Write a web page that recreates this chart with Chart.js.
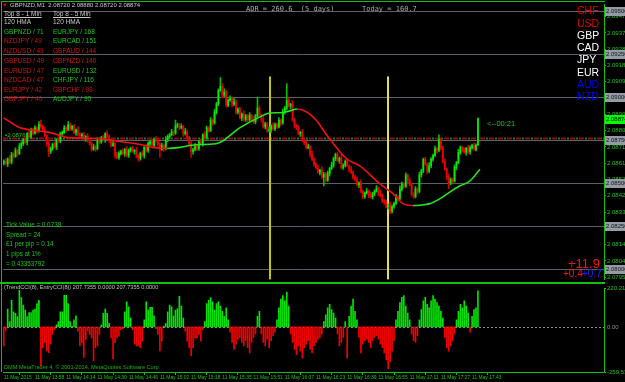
<!DOCTYPE html>
<html>
<head>
<meta charset="utf-8">
<script src="https://cdn.jsdelivr.net/npm/chart.js@4.4.1/dist/chart.umd.min.js"></script>
<style>
  html, body { margin: 0; padding: 0; background: #000; }
  #wrap { position: relative; width: 625px; height: 382px; overflow: hidden; background: #000; }
  canvas { position: absolute; left: 0; }
  #main { top: 0; }
  #ind { top: 284px; }
  .t { position: absolute; white-space: pre; line-height: 1; font-family: "Liberation Sans", Arial, sans-serif; }
</style>
</head>
<body>
<div id="wrap">
  <canvas id="main" width="625" height="284"></canvas>
  <canvas id="ind" width="625" height="98"></canvas>
</div>
<script>
// GBPNZD M1, 11 May 2015 13:42 .. 17:47
const tickLabels = ["11 May 2015", "11 May 13:58", "11 May 14:14", "11 May 14:30", "11 May 14:46", "11 May 15:02",
  "11 May 15:18", "11 May 15:35", "11 May 15:51", "11 May 16:07", "11 May 16:23", "11 May 16:39",
  "11 May 16:55", "11 May 17:11", "11 May 17:27", "11 May 17:43"]

const opens = [2.08615,2.08626,2.08610,2.08640,2.08622,2.08668,2.08655,2.08690,2.08672,2.08712,
 2.08729,2.08752,2.08738,2.08787,2.08770,2.08810,2.08790,2.08821,2.08804,2.08840,
 2.08830,2.08810,2.08775,2.08730,2.08683,2.08700,2.08724,2.08710,2.08752,2.08745,
 2.08787,2.08795,2.08821,2.08812,2.08839,2.08816,2.08828,2.08793,2.08810,2.08780,
 2.08775,2.08782,2.08758,2.08770,2.08747,2.08730,2.08695,2.08712,2.08700,2.08747,
 2.08740,2.08764,2.08752,2.08787,2.08770,2.08747,2.08718,2.08730,2.08660,2.08649,
 2.08672,2.08683,2.08670,2.08695,2.08660,2.08689,2.08701,2.08683,2.08690,2.08655,
 2.08643,2.08672,2.08660,2.08706,2.08690,2.08729,2.08741,2.08720,2.08752,2.08747,
 2.08724,2.08695,2.08718,2.08700,2.08752,2.08770,2.08781,2.08798,2.08790,2.08833,
 2.08839,2.08821,2.08830,2.08787,2.08800,2.08764,2.08729,2.08683,2.08695,2.08712,
 2.08700,2.08741,2.08730,2.08781,2.08765,2.08821,2.08805,2.08867,2.08850,2.08913,
 2.08960,2.09040,2.09063,2.09011,2.09030,2.08954,2.08982,2.08994,2.08959,2.08975,
 2.08913,2.08930,2.08879,2.08902,2.08870,2.08890,2.08867,2.08896,2.08873,2.08856,
 2.08890,2.08936,2.08896,2.08870,2.08827,2.08845,2.08804,2.08810,2.08833,2.08816,
 2.08840,2.08827,2.08867,2.08850,2.08913,2.08936,2.08982,2.08948,2.08960,2.08867,
 2.08833,2.08820,2.08787,2.08795,2.08747,2.08735,2.08706,2.08712,2.08666,2.08637,
 2.08609,2.08590,2.08562,2.08575,2.08534,2.08552,2.08515,2.08557,2.08585,2.08603,
 2.08640,2.08666,2.08630,2.08645,2.08590,2.08603,2.08626,2.08600,2.08580,2.08562,
 2.08534,2.08520,2.08488,2.08500,2.08450,2.08419,2.08440,2.08454,2.08430,2.08419,
 2.08435,2.08452,2.08470,2.08440,2.08425,2.08396,2.08385,2.08362,2.08370,2.08335,
 2.08362,2.08380,2.08419,2.08410,2.08465,2.08494,2.08480,2.08545,2.08511,2.08490,
 2.08436,2.08419,2.08465,2.08450,2.08545,2.08570,2.08637,2.08609,2.08568,2.08600,
 2.08637,2.08660,2.08700,2.08690,2.08752,2.08705,2.08626,2.08580,2.08534,2.08500,
 2.08520,2.08510,2.08591,2.08620,2.08678,2.08706,2.08690,2.08678,2.08701,2.08680,
 2.08706,2.08718,2.08695,2.08720]

const highs = [2.08634,2.08640,2.08646,2.08658,2.08678,2.08676,2.08704,2.08696,2.08730,2.08739,
 2.08760,2.08766,2.08793,2.08805,2.08820,2.08818,2.08835,2.08827,2.08858,2.08867,
 2.08838,2.08824,2.08781,2.08748,2.08710,2.08732,2.08738,2.08758,2.08770,2.08797,
 2.08803,2.08835,2.08827,2.08857,2.08849,2.08836,2.08842,2.08816,2.08828,2.08790,
 2.08790,2.08796,2.08776,2.08788,2.08757,2.08738,2.08726,2.08718,2.08765,2.08757,
 2.08772,2.08778,2.08793,2.08805,2.08780,2.08755,2.08744,2.08736,2.08678,2.08682,
 2.08691,2.08697,2.08701,2.08713,2.08699,2.08709,2.08715,2.08696,2.08708,2.08665,
 2.08680,2.08686,2.08712,2.08724,2.08739,2.08749,2.08755,2.08758,2.08770,2.08757,
 2.08732,2.08732,2.08724,2.08770,2.08780,2.08789,2.08812,2.08804,2.08867,2.08849,
 2.08847,2.08844,2.08836,2.08818,2.08810,2.08772,2.08743,2.08701,2.08730,2.08722,
 2.08749,2.08755,2.08787,2.08799,2.08831,2.08829,2.08881,2.08873,2.08931,2.08970,
 2.09048,2.09114,2.09080,2.09048,2.09040,2.08990,2.09008,2.09000,2.08993,2.08985,
 2.08938,2.08944,2.08908,2.08920,2.08900,2.08898,2.08910,2.08902,2.08891,2.08900,
 2.09000,2.08950,2.08902,2.08888,2.08855,2.08853,2.08824,2.08839,2.08851,2.08850,
 2.08848,2.08881,2.08873,2.08931,2.08946,2.09080,2.08996,2.08966,2.08978,2.08877,
 2.08841,2.08834,2.08801,2.08813,2.08757,2.08743,2.08726,2.08718,2.08684,2.08647,
 2.08617,2.08604,2.08581,2.08593,2.08562,2.08560,2.08571,2.08591,2.08621,2.08650,
 2.08674,2.08680,2.08651,2.08663,2.08613,2.08634,2.08640,2.08606,2.08598,2.08572,
 2.08542,2.08534,2.08506,2.08518,2.08460,2.08448,2.08468,2.08460,2.08448,2.08445,
 2.08460,2.08484,2.08476,2.08458,2.08435,2.08404,2.08399,2.08376,2.08388,2.08372,
 2.08388,2.08433,2.08425,2.08483,2.08504,2.08502,2.08559,2.08551,2.08529,2.08500,
 2.08444,2.08479,2.08471,2.08563,2.08580,2.08645,2.08651,2.08615,2.08618,2.08647,
 2.08668,2.08714,2.08706,2.08781,2.08762,2.08713,2.08640,2.08586,2.08552,2.08530,
 2.08528,2.08605,2.08626,2.08696,2.08716,2.08714,2.08704,2.08707,2.08719,2.08716,
 2.08726,2.08732,2.08728,2.08880]

const lows = [2.08605,2.08604,2.08594,2.08614,2.08610,2.08645,2.08649,2.08656,2.08664,2.08700,
 2.08719,2.08732,2.08722,2.08762,2.08758,2.08780,2.08784,2.08788,2.08796,2.08818,
 2.08800,2.08769,2.08714,2.08655,2.08671,2.08690,2.08704,2.08694,2.08737,2.08733,
 2.08777,2.08789,2.08796,2.08804,2.08804,2.08806,2.08787,2.08777,2.08772,2.08763,
 2.08765,2.08752,2.08742,2.08739,2.08718,2.08685,2.08689,2.08684,2.08692,2.08728,
 2.08730,2.08746,2.08736,2.08762,2.08735,2.08708,2.08712,2.08644,2.08641,2.08637,
 2.08662,2.08664,2.08654,2.08652,2.08648,2.08679,2.08677,2.08667,2.08647,2.08626,
 2.08633,2.08654,2.08644,2.08682,2.08678,2.08719,2.08714,2.08704,2.08739,2.08712,
 2.08649,2.08689,2.08684,2.08692,2.08740,2.08760,2.08775,2.08774,2.08782,2.08821,
 2.08811,2.08815,2.08771,2.08779,2.08752,2.08719,2.08649,2.08667,2.08687,2.08688,
 2.08690,2.08724,2.08714,2.08757,2.08753,2.08795,2.08799,2.08834,2.08842,2.08901,
 2.08950,2.09034,2.08995,2.09003,2.08942,2.08944,2.08976,2.08943,2.08951,2.08901,
 2.08903,2.08873,2.08863,2.08862,2.08858,2.08857,2.08861,2.08857,2.08848,2.08844,
 2.08880,2.08890,2.08854,2.08819,2.08815,2.08794,2.08798,2.08794,2.08808,2.08804,
 2.08817,2.08821,2.08834,2.08842,2.08901,2.08926,2.08942,2.08932,2.08859,2.08821,
 2.08810,2.08781,2.08771,2.08739,2.08723,2.08696,2.08700,2.08650,2.08629,2.08597,
 2.08580,2.08556,2.08546,2.08526,2.08482,2.08505,2.08509,2.08541,2.08577,2.08591,
 2.08630,2.08624,2.08614,2.08582,2.08578,2.08593,2.08594,2.08564,2.08554,2.08522,
 2.08510,2.08482,2.08472,2.08442,2.08407,2.08409,2.08434,2.08414,2.08411,2.08407,
 2.08425,2.08446,2.08424,2.08417,2.08384,2.08375,2.08356,2.08346,2.08321,2.08323,
 2.08352,2.08374,2.08394,2.08402,2.08453,2.08470,2.08474,2.08495,2.08482,2.08424,
 2.08409,2.08413,2.08434,2.08442,2.08533,2.08560,2.08603,2.08552,2.08560,2.08588,
 2.08627,2.08654,2.08674,2.08682,2.08693,2.08616,2.08574,2.08518,2.08465,2.08488,
 2.08500,2.08504,2.08575,2.08612,2.08666,2.08680,2.08672,2.08662,2.08672,2.08668,
 2.08696,2.08689,2.08687,2.08720]

const closes = [2.08626,2.08610,2.08640,2.08622,2.08668,2.08655,2.08690,2.08672,2.08712,2.08729,
 2.08752,2.08738,2.08787,2.08770,2.08810,2.08790,2.08821,2.08804,2.08840,2.08830,
 2.08810,2.08775,2.08730,2.08683,2.08700,2.08724,2.08710,2.08752,2.08745,2.08787,
 2.08795,2.08821,2.08812,2.08839,2.08816,2.08828,2.08793,2.08810,2.08780,2.08775,
 2.08782,2.08758,2.08770,2.08747,2.08730,2.08695,2.08712,2.08700,2.08747,2.08740,
 2.08764,2.08752,2.08787,2.08770,2.08747,2.08718,2.08730,2.08660,2.08649,2.08672,
 2.08683,2.08670,2.08695,2.08660,2.08689,2.08701,2.08683,2.08690,2.08655,2.08643,
 2.08672,2.08660,2.08706,2.08690,2.08729,2.08741,2.08720,2.08752,2.08747,2.08724,
 2.08695,2.08718,2.08700,2.08752,2.08770,2.08781,2.08798,2.08790,2.08833,2.08839,
 2.08821,2.08830,2.08787,2.08800,2.08764,2.08729,2.08683,2.08695,2.08712,2.08700,
 2.08741,2.08730,2.08781,2.08765,2.08821,2.08805,2.08867,2.08850,2.08913,2.08960,
 2.09040,2.09063,2.09011,2.09030,2.08954,2.08982,2.08994,2.08959,2.08975,2.08913,
 2.08930,2.08879,2.08902,2.08870,2.08890,2.08867,2.08896,2.08873,2.08856,2.08890,
 2.08936,2.08896,2.08870,2.08827,2.08845,2.08804,2.08810,2.08833,2.08816,2.08840,
 2.08827,2.08867,2.08850,2.08913,2.08936,2.08982,2.08948,2.08960,2.08867,2.08833,
 2.08820,2.08787,2.08795,2.08747,2.08735,2.08706,2.08712,2.08666,2.08637,2.08609,
 2.08590,2.08562,2.08575,2.08534,2.08552,2.08515,2.08557,2.08585,2.08603,2.08640,
 2.08666,2.08630,2.08645,2.08590,2.08603,2.08626,2.08600,2.08580,2.08562,2.08534,
 2.08520,2.08488,2.08500,2.08450,2.08419,2.08440,2.08454,2.08430,2.08419,2.08435,
 2.08452,2.08470,2.08440,2.08425,2.08396,2.08385,2.08362,2.08370,2.08335,2.08362,
 2.08380,2.08419,2.08410,2.08465,2.08494,2.08480,2.08545,2.08511,2.08490,2.08436,
 2.08419,2.08465,2.08450,2.08545,2.08570,2.08637,2.08609,2.08568,2.08600,2.08637,
 2.08660,2.08700,2.08690,2.08752,2.08705,2.08626,2.08580,2.08534,2.08500,2.08520,
 2.08510,2.08591,2.08620,2.08678,2.08706,2.08690,2.08678,2.08701,2.08680,2.08706,
 2.08718,2.08695,2.08720,2.08874]

// 120 HMA read at a few bars (bar index, price)
const maBars = [0, 8.3, 13.4, 23.7, 33.9, 49.3, 59.6, 69.8, 76.5, 83.7, 90.3, 95.4, 100.6, 105.7, 110.8, 121.1,
  131.3, 136.4, 141.6, 146.7, 150.3, 158.5, 167.2, 175.9, 182.6, 192.8, 199.5, 204.6, 209.7, 213.3, 218.4,
  223.6, 228.7, 233.8, 238.9, 244]
const maValues = [2.08879, 2.08822, 2.08810, 2.08793, 2.08764, 2.08759, 2.08741, 2.08724, 2.08707, 2.08701,
  2.08707, 2.08718, 2.08724, 2.08725, 2.08736, 2.08822, 2.08885, 2.08908, 2.08909, 2.08920, 2.08931, 2.08885,
  2.08753, 2.08638, 2.08598, 2.08494, 2.08437, 2.08379, 2.08368, 2.08370, 2.08379, 2.08408, 2.08448, 2.08483,
  2.08511, 2.08580]

const cci = [-110,-20,103,30,153,87,78,59,210,168,
 125,97,59,82,82,97,103,134,153,-223,
 -120,-91,-138,-148,-100,-44,-16,12,31,87,
 87,182,182,134,31,5,41,63,-25,-110,
 -91,-176,-72,-25,-44,-63,-195,-120,-110,-44,
 12,78,103,78,21,-63,-185,-91,-63,-54,
 -16,-10,87,144,116,50,-16,-100,-110,-110,
 -120,-82,41,144,97,112,112,63,-10,-44,
 -138,-82,5,21,87,125,116,63,97,106,
 176,120,50,-25,-82,-120,-166,-120,-63,-63,
 -44,-82,-16,31,134,153,168,144,97,134,
 144,120,90,60,110,40,-30,-90,-130,-100,
 -70,-60,-90,-110,-80,-120,-150,-90,-60,-40,
 60,90,-40,-90,-110,-70,-120,-80,-50,-30,
 40,110,160,180,150,200,120,-40,-90,-130,
 -160,-110,-140,-180,-120,-100,-80,-130,-150,-110,
 -90,-70,-60,-40,30,70,110,130,100,80,
 50,-40,-110,-90,-60,30,-180,60,120,160,
 90,40,-60,-150,-100,-80,-70,-90,-120,-80,
 -60,-50,-70,-100,-120,-150,-190,-240,-200,-140,
 -80,40,90,140,170,180,120,80,40,-40,
 -80,-90,-50,40,100,150,170,130,110,150,
 180,160,140,120,90,50,-60,-120,-140,-110,
 -80,-40,40,90,130,110,150,120,80,-30,
 60,100,110,207.7355]

const priceTicks = [2.09470, 2.09375, 2.09280, 2.09185, 2.09090, 2.08995, 2.08900, 2.08805, 2.08710,
  2.08615, 2.08520, 2.08425, 2.08330, 2.08235, 2.08140, 2.08045, 2.07950]
const priceLevels = [2.0950, 2.0925, 2.0900, 2.0875, 2.0850, 2.0825, 2.0800]
const pivotLevel = 2.08761
const lastPrice = 2.08874
const markerBars = [136, 196.4]
const markerTop = 2.09121
const cciRange = [-259.5378, 220.2177]

const topOneMin = [["GBPNZD / 71", 1], ["NZDJPY / 49", 0], ["NZDUSD / 49", 0], ["GBPUSD / 49", 0],
  ["EURUSD / 47", 0], ["NZDCAD / 47", 0], ["EURJPY / 42", 0], ["GBPJPY / 40", 0]]
const topFiveMin = [["EURJPY / 168", 1], ["EURCAD / 151", 1], ["GBPAUD / 144", 0], ["GBPNZD / 140", 0],
  ["EURUSD / 132", 1], ["CHFJPY / 116", 1], ["GBPCHF / 98", 0], ["AUDJPY / 90", 1]]
const currencies = [["CHF", "#e00000"], ["USD", "#e00000"], ["GBP", "#ffffff"], ["CAD", "#ffffff"],
  ["JPY", "#ffffff"], ["EUR", "#ffffff"], ["AUD", "#0000ff"], ["NZD", "#0000ff"]]
const infoLines = ["Tick Value = 0.0738", "Spread = 24", "£1 per pip = 0.14", "1 pips at 1%", "= 0.43353792"]

const COLORS = {
  up: "#00f000",
  down: "#f00000",
  upWick: "#00c000",
  downWick: "#c80000",
  frame: "#10c010",
  level: "#596069",
  text: "#c8c8c8",
  green: "#1ec81e",
  red: "#d21414"
}

const FONT = "Liberation Sans"
const X_MIN = -0.4, X_MAX = 307.6

const idx = closes.map((c, i) => i)
const isUp = i => closes[i] >= opens[i]

// ---------- main price panel ----------
const mainDecor = {
  id: "mainDecor",
  beforeDatasetsDraw(chart) {
    const {ctx, chartArea: a, scales: {x, y}} = chart
    ctx.save()
    ctx.lineWidth = 1
    ctx.strokeStyle = COLORS.level
    priceLevels.forEach(v => {
      const py = Math.round(y.getPixelForValue(v)) + 0.5
      ctx.beginPath(); ctx.moveTo(a.left, py); ctx.lineTo(a.right, py); ctx.stroke()
    })
    const pv = Math.round(y.getPixelForValue(pivotLevel)) + 0.5
    ctx.lineWidth = 2
    ctx.setLineDash([5, 4]); ctx.strokeStyle = "#8c1010"
    ctx.beginPath(); ctx.moveTo(a.left, pv); ctx.lineTo(a.right, pv); ctx.stroke()
    ctx.setLineDash([2, 7]); ctx.lineDashOffset = -6; ctx.strokeStyle = "#1c7c1c"
    ctx.beginPath(); ctx.moveTo(a.left, pv); ctx.lineTo(a.right, pv); ctx.stroke()
    ctx.setLineDash([]); ctx.lineDashOffset = 0
    // session markers
    const mColors = ["#c4c400", "#e2e250"]
    markerBars.forEach((b, k) => {
      const px = Math.round(x.getPixelForValue(b))
      const top = y.getPixelForValue(markerTop)
      ctx.fillStyle = mColors[k]
      ctx.fillRect(px, top, 2, a.bottom - top)
    })
    ctx.restore()
  },
  afterDraw(chart) {
    const {ctx, chartArea: a, scales: {y}} = chart
    ctx.save()
    ctx.fillStyle = COLORS.frame
    ctx.fillRect(1, 1, a.right, 1)
    ctx.fillRect(1, 1, 1, 284)
    ctx.fillRect(0, 282, a.right + 1, 2)
    ctx.font = "6px " + FONT
    ctx.textBaseline = "middle"
    priceLevels.forEach(v => {
      const py = Math.round(y.getPixelForValue(v))
      ctx.fillStyle = "#939ba4"
      ctx.fillRect(a.right + 1, py - 4, 20, 9)
      ctx.fillStyle = "#151515"
      ctx.fillText(v.toFixed(5), a.right + 2, py + 0.5)
    })
    const lp = Math.round(y.getPixelForValue(lastPrice))
    ctx.fillStyle = "#00ff00"
    ctx.fillRect(a.right + 1, lp - 4, 20, 9)
    ctx.fillStyle = "#000"
    ctx.fillText(lastPrice.toFixed(5), a.right + 2, lp + 0.5)
    ctx.restore()
  }
}

new Chart(document.getElementById("main"), {
  type: "bar",
  data: {
    datasets: [
      {
        type: "line",
        data: maBars.map((b, k) => ({x: b, y: maValues[k]})),
        borderWidth: 1.6,
        pointRadius: 0,
        cubicInterpolationMode: "monotone",
        segment: {
          borderColor: c => c.p1.parsed.y >= c.p0.parsed.y ? "#22e622" : "#f01010"
        },
        order: 0
      },
      {
        data: idx.map(i => ({x: i, y: [opens[i], closes[i]]})),
        backgroundColor: c => isUp(c.dataIndex) ? COLORS.up : COLORS.down,
        barThickness: 1,
        grouped: false,
        order: 1
      },
      {
        data: idx.map(i => ({x: i, y: [lows[i], highs[i]]})),
        backgroundColor: c => isUp(c.dataIndex) ? COLORS.upWick : COLORS.downWick,
        barThickness: 1,
        grouped: false,
        order: 2
      }
    ]
  },
  options: {
    responsive: false,
    animation: false,
    layout: {padding: {left: 3, top: 3, right: 0, bottom: 2}},
    plugins: {legend: {display: false}, tooltip: {enabled: false}},
    scales: {
      x: {type: "linear", min: X_MIN, max: X_MAX, offset: false, display: false},
      y: {
        position: "right",
        min: 2.07937,
        max: 2.09540,
        afterBuildTicks: s => { s.ticks = priceTicks.map(v => ({value: v})) },
        afterFit: s => { s.width = 21 },
        ticks: {
          color: COLORS.green, autoSkip: false, padding: 1,
          font: {family: FONT, size: 6},
          callback: v => v.toFixed(5)
        },
        grid: {drawOnChartArea: false, tickLength: 2, color: COLORS.frame},
        border: {color: COLORS.frame}
      }
    }
  },
  plugins: [mainDecor]
})

// ---------- CCI panel ----------
const cciDecor = {
  id: "cciDecor",
  beforeDatasetsDraw(chart) {
    const {ctx, chartArea: a, scales: {y}} = chart
    const zy = Math.round(y.getPixelForValue(0)) + 0.5
    ctx.save()
    ctx.strokeStyle = "#8c8c8c"
    ctx.setLineDash([2, 2])
    ctx.beginPath(); ctx.moveTo(a.left, zy); ctx.lineTo(a.right, zy); ctx.stroke()
    ctx.restore()
  },
  afterDraw(chart) {
    const {ctx, chartArea: a, scales: {y}} = chart
    ctx.save()
    ctx.fillStyle = COLORS.frame
    ctx.fillRect(1, 0, 1, a.bottom)
    const zy = Math.round(y.getPixelForValue(0))
    ctx.font = "6px " + FONT
    ctx.textBaseline = "middle"
    ctx.fillStyle = "#8c8c8c"
    ctx.fillText("0.00", a.right + 3, zy + 0.5)
    ctx.restore()
  }
}

new Chart(document.getElementById("ind"), {
  type: "bar",
  data: {
    datasets: [{
      data: idx.map(i => ({x: i, y: cci[i]})),
      backgroundColor: c => cci[c.dataIndex] >= 0 ? "#00e600" : "#f00000",
      barThickness: 1
    }]
  },
  options: {
    responsive: false,
    animation: false,
    layout: {padding: {left: 3, top: 2, right: 0, bottom: 0}},
    plugins: {legend: {display: false}, tooltip: {enabled: false}},
    scales: {
      x: {
        type: "linear", min: X_MIN, max: X_MAX, offset: false,
        afterBuildTicks: s => { s.ticks = tickLabels.map((t, k) => ({value: k * 16})) },
        afterFit: s => { s.height = 10 },
        ticks: {
          color: COLORS.green, autoSkip: false, maxRotation: 0, padding: 0, align: "start",
          font: {family: FONT, size: 4.9},
          callback: (v, i) => tickLabels[i]
        },
        grid: {drawOnChartArea: false, tickLength: 3, color: COLORS.frame},
        border: {color: COLORS.frame}
      },
      y: {
        position: "right",
        min: cciRange[0],
        max: cciRange[1],
        afterBuildTicks: s => { s.ticks = [{value: cciRange[1]}, {value: cciRange[0]}] },
        afterFit: s => { s.width = 21 },
        ticks: {
          color: COLORS.green, autoSkip: false, padding: 1,
          font: {family: FONT, size: 6},
          callback: v => v.toFixed(4)
        },
        grid: {drawOnChartArea: false, tickLength: 2, color: COLORS.frame},
        border: {color: COLORS.frame}
      }
    }
  },
  plugins: [cciDecor]
})

// ---------- text overlays ----------
const wrap = document.getElementById("wrap")
const addText = (txt, x, cy, size, color, css) => {
  const d = document.createElement("div")
  d.className = "t"
  d.textContent = txt
  d.style.left = x + "px"
  d.style.top = (cy - size * 0.55) + "px"
  d.style.fontSize = size + "px"
  d.style.color = color
  if (css) d.style.cssText += css
  wrap.appendChild(d)
}

addText("\u25BC", 2, 5, 6, "#e00000")
addText("GBPNZD,M1  2.08720 2.08880 2.08720 2.08874", 10, 5, 6, COLORS.text)
addText("Top 8 - 1 Min", 4, 15, 6.5, COLORS.text, "text-decoration:underline;")
addText("120 HMA", 4, 22.5, 6.5, COLORS.text)
addText("Top 8 - 5 Min", 53, 15, 6.5, COLORS.text, "text-decoration:underline;")
addText("120 HMA", 53, 22.5, 6.5, COLORS.text)
const rowY = [32.3, 42, 51.7, 61.7, 71.3, 81, 90.7, 100]
topOneMin.forEach((r, k) => addText(r[0], 4, rowY[k], 6.5, r[1] ? COLORS.green : COLORS.red))
topFiveMin.forEach((r, k) => addText(r[0], 53, rowY[k], 6.5, r[1] ? COLORS.green : COLORS.red))

addText("ADR = 260.6  (5 days)", 246, 10, 7, "#a8a8a8", "font-family:'DejaVu Sans Mono',monospace;")
addText("Today = 160.7", 362, 10, 7, "#a8a8a8", "font-family:'DejaVu Sans Mono',monospace;")

currencies.forEach((c, k) => addText(c[0], 577, 11 + k * 12.3, 10.5, c[1]))

infoLines.forEach((t, k) => addText(t, 6, 225.5 + k * 9.7, 6.3, COLORS.green))

addText("\u25AA2.08761", 5, 135, 6, COLORS.green)
addText("<--00:21", 487, 124, 7.5, "#20c020")
addText("+11.9", 568, 264, 13, "#ff1010")
addText("+0.4", 563, 274.5, 10, "#ff1010")
addText("+0.7", 582, 274.5, 10, "#2020ff")

addText("(TrendCCI(8), EntryCCI(8)) 207.7355 0.0000 207.7355 0.0000", 4, 288.5, 5.6, "#c0c0c0")
addText("DMM MetaTrader 4, \u00A9 2001-2014, MetaQuotes Software Corp.", 4, 368, 5.6, "#18b018")
</script>
</body>
</html>
